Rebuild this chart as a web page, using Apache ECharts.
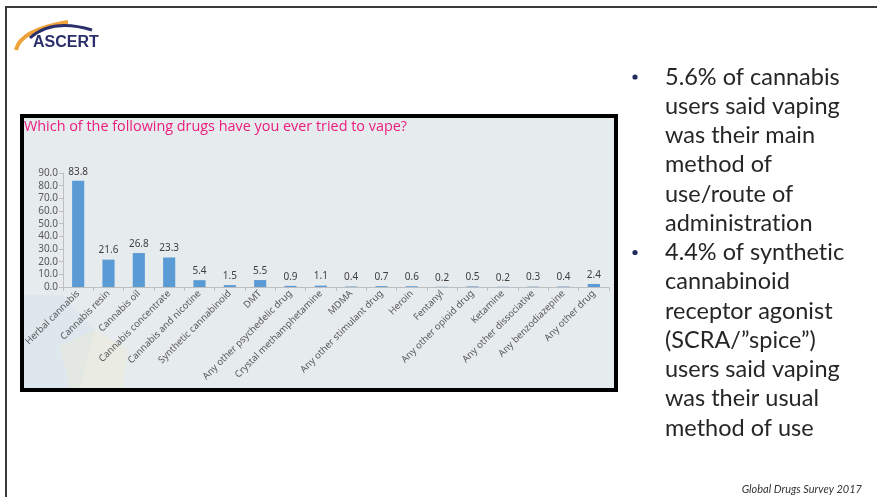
<!DOCTYPE html>
<html>
<head>
<meta charset="utf-8">
<script src="https://cdn.jsdelivr.net/npm/echarts@6/dist/echarts.min.js"></script>
<style>
html,body{margin:0;padding:0;background:#fff;}
#c{width:877px;height:497px;}
</style>
</head>
<body>
<div id="c"></div>
<script>
const categories = ['Herbal cannabis','Cannabis resin','Cannabis oil','Cannabis concentrate','Cannabis and nicotine','Synthetic cannabinoid','DMT','Any other psychedelic drug','Crystal methamphetamine','MDMA','Any other stimulant drug','Heroin','Fentanyl','Any other opioid drug','Ketamine','Any other dissociative','Any benzodiazepine','Any other drug'];
const values = [83.8, 21.6, 26.8, 23.3, 5.4, 1.5, 5.5, 0.9, 1.1, 0.4, 0.7, 0.6, 0.2, 0.5, 0.2, 0.3, 0.4, 2.4];
const chartTitle = 'Which of the following drugs have you ever tried to vape?';
const bullet1 = ['5.6% of cannabis','users said vaping','was their main','method of','use/route of','administration'];
const bullet2 = ['4.4% of synthetic','cannabinoid','receptor agonist','(SCRA/\u201dspice\u201d)','users said vaping','was their usual','method of use'];
const footer = 'Global Drugs Survey 2017';

const chart = echarts.init(document.getElementById('c'));
const lh = 29.25;
const textColor = '#262626';
const g = [];
// break the Lato "ti" ligature by drawing the t and the i in separate rich-text tokens
function richLine(t){
  const parts = t.split(/(?<=t)(?=i)/);
  return parts.map(function(p){ return '{a|' + p + '}'; }).join('');
}
// slide frame
g.push({type:'rect', shape:{x:6,y:7,width:900,height:520}, style:{fill:'none', stroke:'#3a3a3a', lineWidth:2}, z:0});
// chart box
g.push({type:'rect', shape:{x:22,y:116,width:594,height:274}, style:{fill:'#e6ebee', stroke:'#000', lineWidth:4}, z:0});
// faint decoration hexagons
g.push({type:'polygon', shape:{points:[[24,295],[62,295],[95,330],[80,388],[24,388]]}, style:{fill:'rgba(205,224,236,0.35)'}, z:0});
g.push({type:'polygon', shape:{points:[[60,345],[95,330],[128,350],[122,388],[70,388]]}, style:{fill:'rgba(240,236,205,0.35)'}, z:0});
// title
g.push({type:'text', left:24, top:120, style:{text:chartTitle, fill:'#ec1c7c', font:'14.4px "Open Sans", sans-serif'}, z:2});
// logo
g.push({type:'bezierCurve', shape:{x1:16,y1:50,cpx1:20,cpy1:30,x2:68,y2:22}, style:{stroke:'#f0a23a', lineWidth:4, fill:'none'}, z:2});
g.push({type:'bezierCurve', shape:{x1:30,y1:38,cpx1:52,cpy1:18,x2:92,y2:30}, style:{stroke:'#2b2f6b', lineWidth:3, fill:'none'}, z:2});
g.push({type:'text', left:33, top:35, style:{text:'ASCERT', fill:'#2b2f6b', font:'bold 16px "Liberation Sans Narrow", "Liberation Sans", sans-serif'}, z:3});
// bullets
g.push({type:'circle', shape:{cx:635, cy:77, r:2.6}, style:{fill:'#1f2d5a'}, z:2});
g.push({type:'circle', shape:{cx:635, cy:77+6*lh, r:2.6}, style:{fill:'#1f2d5a'}, z:2});
bullet1.concat(bullet2).forEach(function(t,i){
  g.push({type:'text', x:665, y:77+i*lh, style:{text:richLine(t), textVerticalAlign:'middle', textAlign:'left',
    rich:{a:{fill:textColor, fontSize:23.5, fontFamily:'Lato, sans-serif', lineHeight:28}}}, z:2});
});
g.push({type:'text', x:862, y:489, style:{text:footer, fill:'#333', font:'italic 11px Lato, sans-serif', textAlign:'right', textVerticalAlign:'middle'}, z:2});

chart.setOption({
  animation:false,
  graphic:g,
  grid:{left:63, right:268, top:173, bottom:210, containLabel:false},
  xAxis:{
    type:'category', data:categories, boundaryGap:true,
    axisLine:{lineStyle:{color:'#bfbfbf', width:1}},
    axisTick:{show:true, length:4, lineStyle:{color:'#bfbfbf'}},
    axisLabel:{interval:0, rotate:45, margin:5, fontSize:9.5, color:'#595959', fontFamily:'"Noto Sans", sans-serif'}
  },
  yAxis:{
    type:'value', min:0, max:90, interval:10,
    axisLine:{show:true, lineStyle:{color:'#bfbfbf'}},
    axisTick:{show:true, length:4, lineStyle:{color:'#bfbfbf'}},
    splitLine:{show:false},
    axisLabel:{margin:5, fontSize:10, color:'#595959', fontFamily:'"Noto Sans", sans-serif', formatter:function(v){return v.toFixed(1);}}
  },
  series:[{
    type:'bar', data:values, barWidth:'40%',
    itemStyle:{color:'#5b9bd5'},
    label:{show:true, position:'top', distance:4, fontSize:10, color:'#404040', fontFamily:'"Noto Sans", sans-serif', formatter:function(p){return p.value.toFixed(1);}}
  }]
});
</script>
</body>
</html>
